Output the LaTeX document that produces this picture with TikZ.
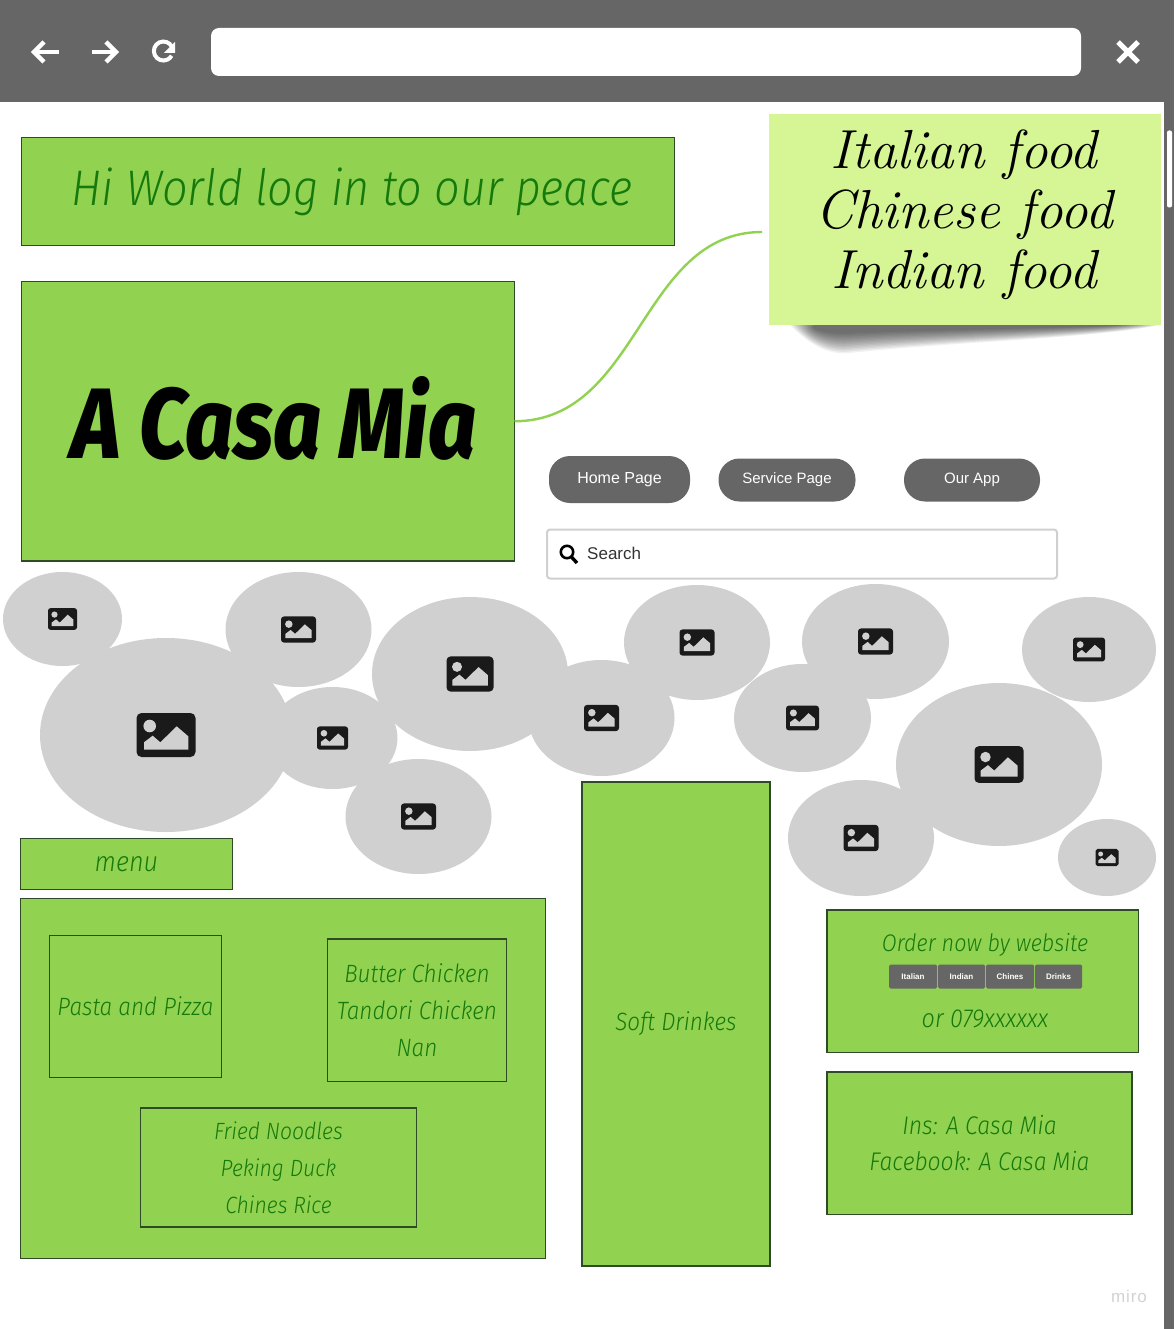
\documentclass[tikz,border=0pt]{standalone}
\usepackage{fontspec}
\usetikzlibrary{shapes.geometric}
\setmainfont{Liberation Sans}
\newfontfamily\handfont{Fira Sans Light Italic}[FakeStretch=0.9]
\newfontfamily\brushfont{Fira Sans ExtraBold Italic}[FakeStretch=0.84]
\newfontfamily\notefont{Latin Modern Roman}
\newfontfamily\mirofont{Liberation Sans}[LetterSpace=5]
\definecolor{barGray}{HTML}{666666}
\definecolor{leaf}{HTML}{91D250}
\definecolor{leafEdge}{HTML}{2F4A26}
\definecolor{inkGreen}{HTML}{15790C}
\definecolor{noteGreen}{HTML}{D6F594}
\definecolor{bubbleGray}{HTML}{D0D0D0}
\definecolor{iconInk}{HTML}{1A1A1A}
\definecolor{searchEdge}{HTML}{D0D0D0}
\definecolor{miroGray}{HTML}{CFD3D6}
\tikzset{
  x=1pt,y=-1pt,
  panel/.style={draw=leafEdge,line width=1.2pt,outer sep=0pt,fill=leaf,inner sep=0pt,align=center,text=inkGreen},
  pill/.style={fill=barGray,rounded corners=21pt,inner sep=0pt,text=white,font=\fontsize{16}{19}\selectfont},
  tabbtn/.style={fill=barGray,rounded corners=1.5pt,inner sep=0pt,text=white,font=\bfseries\fontsize{8}{10}\selectfont},
  bubble/.style={ellipse,fill=bubbleGray,inner sep=0pt},
  chrome/.style={white,line width=4.5pt,line cap=butt,line join=miter},
  handline/.style={text=inkGreen,inner sep=0pt},
}
\newcommand{\boxnode}[7]{% name, x1, y1, x2, y2, font size, text
  \node[panel,font=\handfont\fontsize{#6}{37}\selectfont,minimum width=#4pt-#2pt,minimum height=#5pt-#3pt,anchor=north west] (#1) at (#2,#3) {#7};}
\newcommand{\photobubble}[6]{% name, cx, cy, rx, ry, icon width
  \node[bubble,minimum width=2pt*#4,minimum height=2pt*#5] (#1) at (#2,#3) {};
  \begin{scope}[shift={(#1.center)},scale=#6/59]
    \pgfmathsetmacro{\iconr}{5*#6/59}
    \fill[iconInk,rounded corners=\iconr pt] (-29.5,-22) rectangle (29.5,22);
    \fill[bubbleGray] (-16.3,-9) circle[radius=6.3];
    \fill[bubbleGray] (-22,14.7) -- (-22,7.3) -- (-13.3,.7) -- (-5.7,7.3) -- (10.7,-8.7) -- (22.3,1.3) -- (22.3,14.7) -- cycle;
  \end{scope}}
\begin{document}
\begin{tikzpicture}
\useasboundingbox (0,0) rectangle (1174,1329);
\fill[white] (0,0) rectangle (1174,1329);
% browser chrome
\fill[barGray] (0,0) rectangle (1174,102);
\node[fill=white,rounded corners=8pt,minimum width=870pt,minimum height=48pt,inner sep=0pt] (url) at (646,52) {};
\coordinate (stripTop) at (1164,102);
\coordinate (stripBot) at (1174,1329);
\fill[barGray] (stripTop) rectangle (stripBot);
\node[fill=white,rounded corners=2pt,minimum width=5pt,minimum height=77pt,inner sep=0pt] (thumb) at (1169.5,169) {};
% back
\draw[chrome] (34,52) -- (59,52);
\draw[chrome] (44,42) -- (34,52) -- (44,62);
% forward
\draw[chrome] (92,52) -- (115,52);
\draw[chrome] (106,42) -- (116,52) -- (106,62);
% reload
\draw[white,line width=4pt] (172,47) arc[start angle=-25,end angle=-330,radius=9.5];
\fill[white] (175,42) -- (175,53) -- (164,53) -- cycle;
% close
\draw[white,line width=5pt] (1118,42) -- (1138,62);
\draw[white,line width=5pt] (1138,42) -- (1118,62);

% green panels
\boxnode{hello}{21.5}{137.5}{674.5}{245.5}{50}{\hspace*{8pt}Hi World log in to our peace}
\boxnode{hero}{21.5}{281.5}{514.5}{561}{50}{}
\node[inner sep=0pt,text=black,font=\brushfont\fontsize{100}{104}\selectfont] (heroText) at (274,418) {A Casa Mia};
\boxnode{menu}{20.5}{838.5}{232.5}{889.5}{28}{menu}
\boxnode{dishes}{20.5}{898.5}{545.5}{1258.5}{25}{}
\boxnode{drinks}{582}{782}{770}{1266}{25}{Soft Drinkes}
\boxnode{order}{827}{910}{1138.5}{1052.5}{25}{}
\boxnode{social}{827}{1072}{1132}{1214.5}{25.5}{Ins: A Casa Mia\\[-1pt]Facebook: A Casa Mia}
\boxnode{pasta}{49.5}{935.5}{221.5}{1077.5}{25}{Pasta and Pizza}
\boxnode{curry}{327.5}{939}{506.5}{1081.5}{25}{Butter Chicken\\Tandori Chicken\\Nan}
\boxnode{noodles}{140.5}{1108}{416.5}{1227}{23.5}{Fried Noodles\\Peking Duck\\Chines Rice}

% order panel contents
\node[handline,font=\handfont\fontsize{24}{30}\selectfont] (orderText) at (985,945) {Order now by website};
\node[handline,font=\handfont\fontsize{26}{30}\selectfont] (phone) at (985,1019) {or 079xxxxxx};
\node[tabbtn,minimum width=48pt,minimum height=24pt] (tabA) at (913,976.5) {Italian};
\node[tabbtn,minimum width=47pt,minimum height=24pt] (tabB) at (961.5,976.5) {Indian};
\node[tabbtn,minimum width=48pt,minimum height=24pt] (tabC) at (1010,976.5) {Chines};
\node[tabbtn,minimum width=47pt,minimum height=24pt] (tabD) at (1058.5,976.5) {Drinks};

% sticky note and its soft shadow
\foreach \i in {0,...,13}{
  \fill[black,opacity=.055] (790+\i*2,325) -- (1160-\i*3,325)
    .. controls (1100,338-\i*.8) and (950,342-\i) .. (850,353-\i*1.5)
    .. controls (825,356-\i*1.6) and (805,340-\i) .. (790+\i*2,325) -- cycle;
}
\node[fill=noteGreen,minimum width=392pt,minimum height=211pt,inner sep=0pt] (note) at (964.5,219.5) {};
\node[inner sep=0pt,align=center,font=\notefont\itshape\fontsize{55}{60}\selectfont] (noteText) at (964,215) {Italian food\\Chinese food\\Indian food};

% connector
\coordinate (noteEnd) at (762,232);
\draw[leaf,line width=2.4pt] (hero.east) .. controls (640,421) and (640,232) .. (noteEnd);

% nav pills
\node[pill,minimum width=141pt,minimum height=47pt] (home) at (619.5,479.5) {Home Page};
\node[pill,minimum width=137pt,minimum height=43pt] (service) at (787,480) {\fontsize{15}{18}\selectfont Service Page};
\node[pill,minimum width=136pt,minimum height=43pt] (app) at (972,480) {\fontsize{15}{18}\selectfont Our App};

% search
\node[draw=searchEdge,line width=2pt,fill=white,rounded corners=3pt,minimum width=510pt,minimum height=49pt,inner sep=0pt] (search) at (802,554) {};
\node[anchor=west,inner sep=0pt,text=black!80,font=\fontsize{17}{20}\selectfont] (searchText) at (587,553.5) {Search};
\draw[black,line width=2.6pt] (567,552) circle[radius=6.2];
\draw[black,line width=3.4pt] (571.5,557) -- (577,563);

% image bubbles
\photobubble{bA}{62.5}{619}{59.5}{47}{29}
\photobubble{bB}{298.5}{629.5}{73}{57.5}{35}
\photobubble{bC}{166}{735}{126}{97}{59}
\photobubble{bD}{332.5}{738}{65}{51}{31}
\photobubble{bE}{418.5}{816.5}{73}{57.5}{35}
\photobubble{bF}{470}{674}{98}{77}{47}
\photobubble{bG}{601.5}{718}{73}{58}{35}
\photobubble{bH}{697}{642.5}{73}{57.5}{35}
\photobubble{bI}{875.5}{641.5}{73.5}{57.5}{35}
\photobubble{bJ}{802.5}{718}{68.5}{54}{33}
\photobubble{bK}{1089}{649.5}{67}{52.5}{32}
\photobubble{bL}{999}{764.5}{103}{81.5}{49}
\photobubble{bM}{861}{838}{73}{58}{35}
\photobubble{bN}{1107}{857.5}{49}{38.5}{23}

% watermark
\node[text=miroGray,font=\mirofont\fontsize{17}{20}\selectfont] (miro) at (1129,1296) {miro};
\end{tikzpicture}
\end{document}
